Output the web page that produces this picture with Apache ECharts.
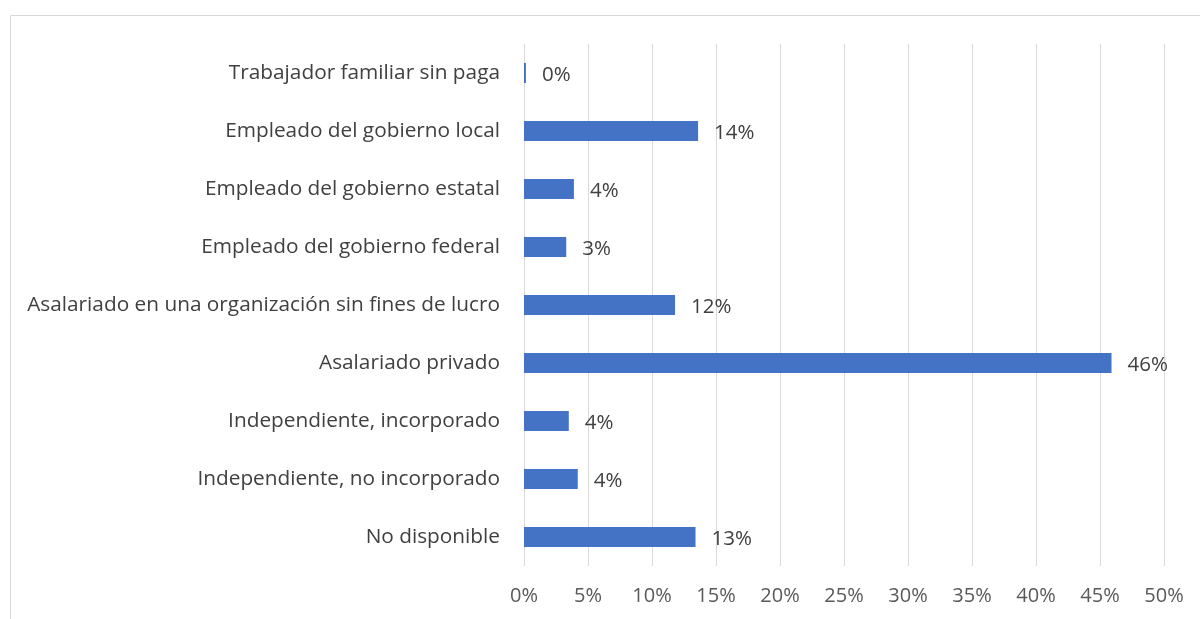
<!DOCTYPE html>
<html>
<head>
<meta charset="utf-8">
<script src="https://cdn.jsdelivr.net/npm/echarts@6/dist/echarts.min.js"></script>
<style>
  html, body { margin: 0; padding: 0; background: #fff; }
  #chart { width: 1200px; height: 619px; }
</style>
</head>
<body>
<div id="chart"></div>
<script>
// categories top to bottom
const categories = [
    "Trabajador familiar sin paga",
    "Empleado del gobierno local",
    "Empleado del gobierno estatal",
    "Empleado del gobierno federal",
    "Asalariado en una organización sin fines de lucro",
    "Asalariado privado",
    "Independiente, incorporado",
    "Independiente, no incorporado",
    "No disponible"
];

// share in percent
const shares = [0.15, 13.6, 3.9, 3.3, 11.8, 45.9, 3.5, 4.2, 13.4];

const axisMin = 0;
const axisMax = 50;
const axisStep = 5;

const font = "'Open Sans', Lato, sans-serif";

const chart = echarts.init(document.getElementById("chart"));

chart.setOption({
    animation: false,
    graphic: [
        {
            type: "rect",
            shape: { x: 10.5, y: 15.5, width: 1300, height: 700 },
            style: { fill: "none", stroke: "#d9d9d9", lineWidth: 1 },
            silent: true
        }
    ],
    grid: { left: 524, right: 36, top: 44, bottom: 53 },
    xAxis: {
        type: "value",
        min: axisMin,
        max: axisMax,
        interval: axisStep,
        axisLine: { show: false },
        axisTick: { show: false },
        splitLine: { show: true, lineStyle: { color: "#d9d9d9", width: 1 } },
        axisLabel: {
            formatter: "{value}%",
            color: "#595959",
            fontSize: 20,
            fontFamily: font,
            margin: 20
        }
    },
    yAxis: {
        type: "category",
        data: categories,
        inverse: true,
        axisLine: { show: false },
        axisTick: { show: false },
        axisLabel: {
            color: "#404040",
            fontSize: 20.8,
            fontFamily: font,
            margin: 24,
            padding: [6, 0, 0, 0]
        }
    },
    series: [
        {
            type: "bar",
            data: shares,
            barWidth: 20,
            itemStyle: { color: "#4472c4" },
            label: {
                show: true,
                position: "right",
                distance: 16,
                offset: [0, 2],
                color: "#404040",
                fontSize: 20.5,
                fontFamily: font,
                formatter: (p) => Math.round(p.value) + "%"
            }
        }
    ]
});
</script>
</body>
</html>
